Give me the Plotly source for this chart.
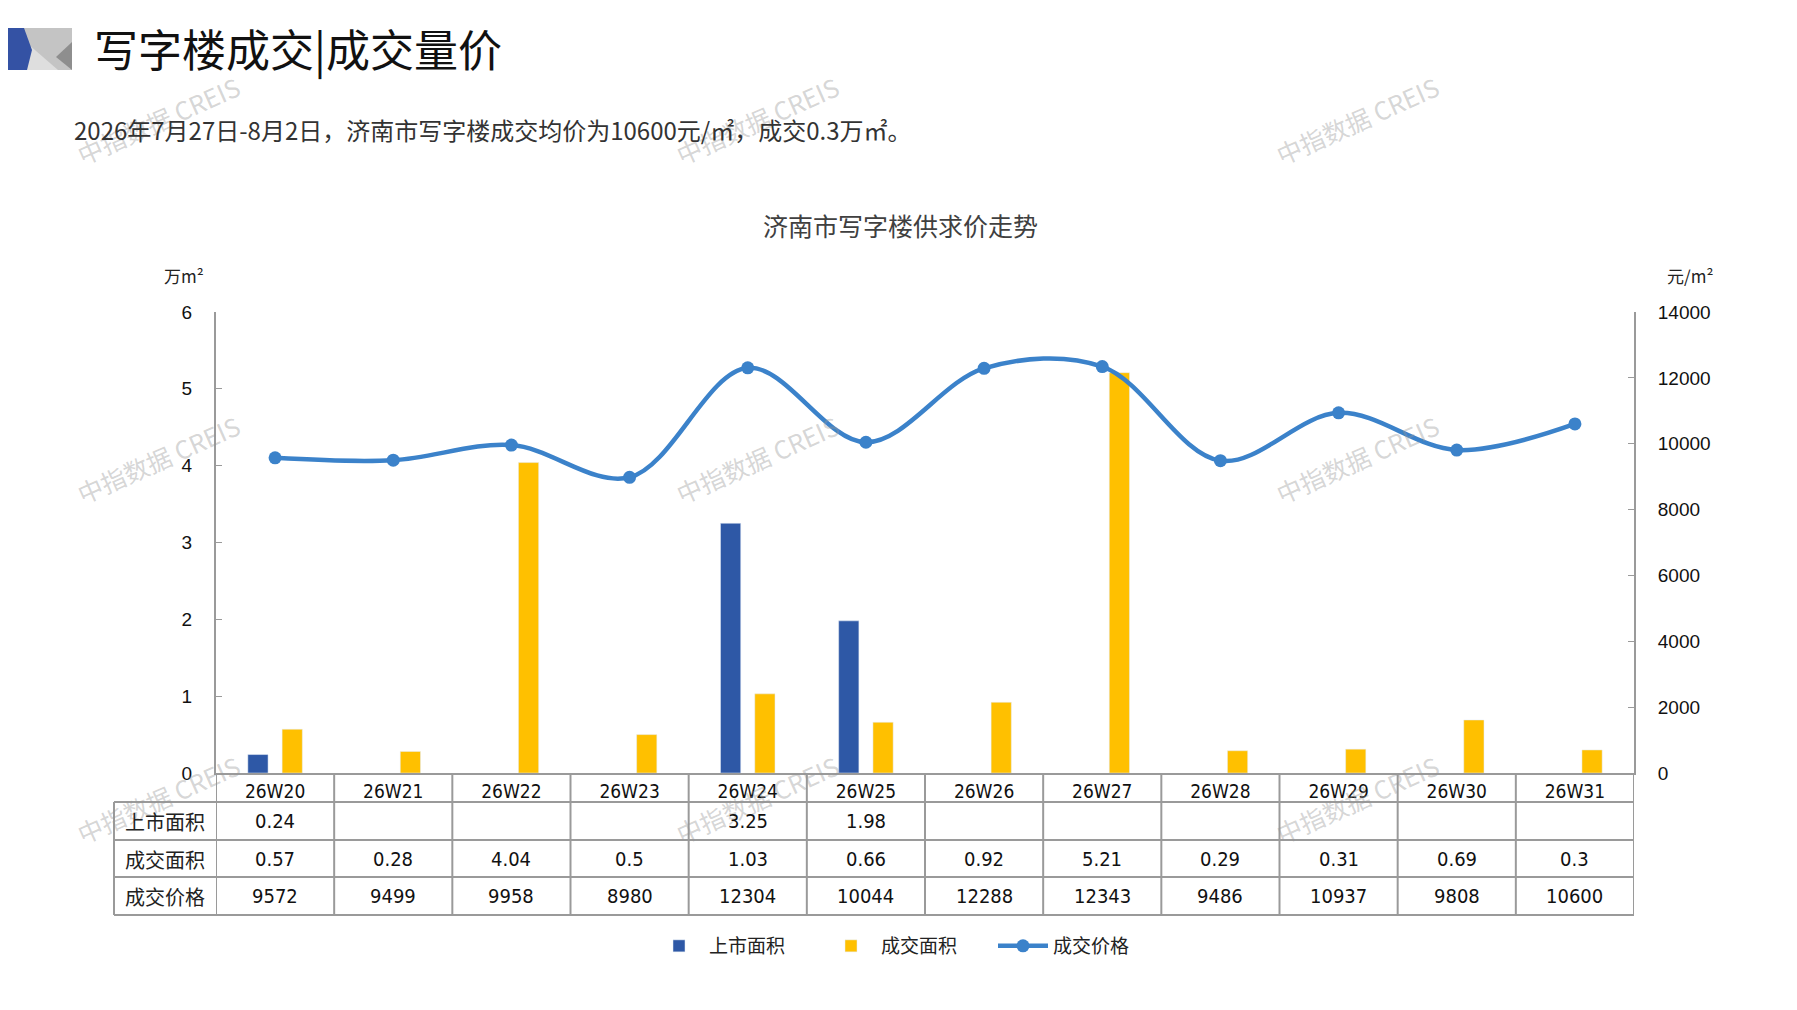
import plotly.graph_objects as go

# 数据
weeks = ['26W20', '26W21', '26W22', '26W23', '26W24', '26W25',
         '26W26', '26W27', '26W28', '26W29', '26W30', '26W31']
listed_area = [0.24, None, None, None, 3.25, 1.98, None, None, None, None, None, None]
deal_area = [0.57, 0.28, 4.04, 0.5, 1.03, 0.66, 0.92, 5.21, 0.29, 0.31, 0.69, 0.3]
deal_price = [9572, 9499, 9958, 8980, 12304, 10044, 12288, 12343, 9486, 10937, 9808, 10600]
row_names = ['上市面积', '成交面积', '成交价格']

W, H = 1797, 1010
OFF = 8   # 页面body的默认边距
L, R, T, B = 216 - OFF, 1634 - OFF, 312 - OFF, 773 - OFF   # 绘图区像素边界


def px(x):
    return (x - OFF - L) / (R - L)


def py(y):
    return (B - (y - OFF)) / (B - T)


CJK = 'Noto Sans CJK SC'
NUM = 'DejaVu Sans Condensed, Liberation Sans Narrow, Arial Narrow, sans-serif'
GRID = '#9a9a9a'

fig = go.Figure()
fig.add_trace(go.Bar(x=weeks, y=listed_area, name='上市面积', marker_color='#2E58A6'))
fig.add_trace(go.Bar(x=weeks, y=deal_area, name='成交面积', marker_color='#FFC000'))
fig.add_trace(go.Scatter(x=weeks, y=deal_price, name='成交价格', yaxis='y2',
                         mode='lines+markers', line=dict(color='#3B82CA', width=4.5, shape='spline', smoothing=1),
                         marker=dict(size=13, color='#3B82CA')))

shapes = []
# 表格横线
for yy in [802, 840, 877, 915]:
    shapes.append(dict(type='line', xref='paper', yref='paper', x0=px(114), x1=1, y0=py(yy), y1=py(yy),
                       line=dict(color=GRID, width=2)))
# 表格竖线
for k in range(len(weeks) + 1):
    shapes.append(dict(type='line', xref='x', yref='paper', x0=k - 0.5, x1=k - 0.5, y0=0, y1=py(915),
                       line=dict(color=GRID, width=2)))
shapes.append(dict(type='line', xref='paper', yref='paper', x0=px(114), x1=px(114), y0=py(802), y1=py(915),
                   line=dict(color=GRID, width=2)))


# 标题左侧图标
def path(pts):
    return 'M ' + ' L '.join(f'{px(a)},{py(b)}' for a, b in pts) + ' Z'


shapes.append(dict(type='path', xref='paper', yref='paper', path=path([(24, 28), (72, 28), (72, 70), (24, 70)]),
                   fillcolor='#C4C4C4', line=dict(width=0)))
shapes.append(dict(type='path', xref='paper', yref='paper', path=path([(28, 44), (58, 70), (27, 70)]),
                   fillcolor='#DEDEDE', line=dict(width=0)))
shapes.append(dict(type='path', xref='paper', yref='paper', path=path([(72, 42), (56, 57), (72, 70)]),
                   fillcolor='#8E8E8E', line=dict(width=0)))
shapes.append(dict(type='path', xref='paper', yref='paper', path=path([(0, 28), (24, 28), (32, 50), (27, 70), (0, 70)]),
                   fillcolor='#3452A4', line=dict(width=0)))


def note(text, x, y, size, color='#222', family=CJK, xanchor='center', **kw):
    return dict(text=text, xref='paper', yref='paper', x=px(x), y=py(y), xanchor=xanchor, yanchor='middle',
                showarrow=False, font=dict(family=family, size=size, color=color), **kw)


annotations = []
# 水印
for wx in [158, 757, 1357]:
    for wy in [120, 459, 799]:
        annotations.append(note('中指数据 CREIS', wx, wy, 25, color='rgba(150,150,150,0.4)', textangle=-24))

# 表格内容
row_y = [821, 859, 896]
for name, yy in zip(row_names, row_y):
    annotations.append(note(name, 165, yy, 20))
for i, w in enumerate(weeks):
    cells = [listed_area[i], deal_area[i], deal_price[i]]
    for v, yy in zip(cells, row_y):
        if v is None:
            continue
        annotations.append(dict(text=str(v), xref='x', yref='paper', x=w, y=py(yy), xanchor='center',
                                yanchor='middle', showarrow=False, font=dict(family=NUM, size=20, color='#111')))

annotations += [
    note('2026年7月27日-8月2日，济南市写字楼成交均价为10600元/㎡，成交0.3万㎡。', 72, 130, 24, color='#333',
         xanchor='left'),
    note('济南市写字楼供求价走势', 900, 225, 25, color='#404040'),
    note('万m²', 184, 275, 17),
    note('元/m²', 1690, 275, 17),
]

fig.update_layout(
    width=W, height=H,
    margin=dict(l=L, r=W - R, t=T, b=H - B),
    paper_bgcolor='white', plot_bgcolor='white',
    title=dict(text='写字楼成交|成交量价', x=(94 - OFF) / W, y=1 - (52 - OFF) / H, xanchor='left', yanchor='middle',
               font=dict(family=CJK, size=44, color='#111')),
    barmode='group', bargap=0.42, bargroupgap=0.41,
    xaxis=dict(type='category', range=[-0.5, 11.5], showline=True, linecolor=GRID, linewidth=2,
               ticks='', showgrid=False, tickfont=dict(family=NUM, size=19, color='#111')),
    yaxis=dict(range=[0, 6], dtick=1, showline=True, linecolor=GRID, linewidth=2, showgrid=False,
               ticks='inside', ticklen=6, tickcolor=GRID, zeroline=False, ticklabelstandoff=18,
               tickfont=dict(family='Liberation Sans, Arial, sans-serif', size=19, color='#111')),
    yaxis2=dict(range=[0, 14000], dtick=2000, tickformat='d', overlaying='y', side='right', showline=True,
                linecolor=GRID, linewidth=2, showgrid=False, ticks='inside', ticklen=6, tickcolor=GRID,
                zeroline=False, ticklabelstandoff=18,
                tickfont=dict(family='Liberation Sans, Arial, sans-serif', size=19, color='#111')),
    legend=dict(orientation='h', x=px(907), xanchor='center', y=py(946), yanchor='middle',
                font=dict(family=CJK, size=19, color='#222'), itemwidth=50, traceorder='normal',
                entrywidth=107, entrywidthmode='pixels'),
    shapes=shapes, annotations=annotations,
)

fig.write_html('out.html')
